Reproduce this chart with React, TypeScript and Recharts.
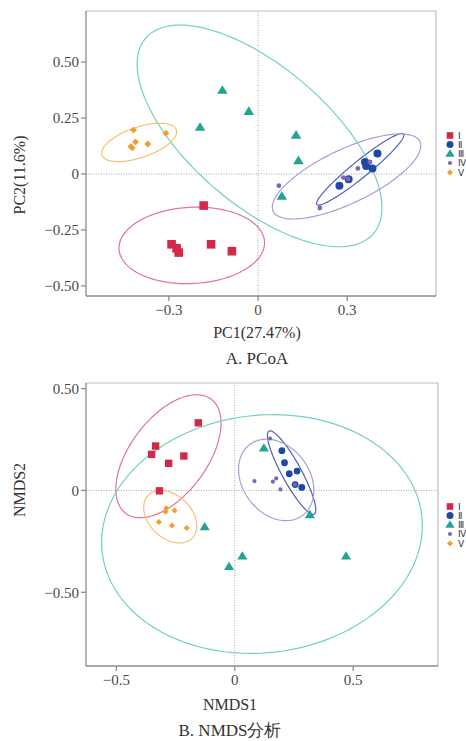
import React from 'react';
import { ScatterChart, Scatter, XAxis, YAxis, ReferenceLine } from 'recharts';

const groups = ['Ⅰ', 'Ⅱ', 'Ⅲ', 'Ⅳ', 'Ⅴ'];
const kinds = ['square', 'circle', 'triangle', 'dot', 'diamond'];
const colors = ['#d4284a', '#1d49a3', '#22a394', '#7b69b5', '#f49c2c'];
const ellipseColors = ['#e2778b', '#4e62ba', '#74d0c8', '#aa9dd8', '#f7bf74'];

// A. PCoA
const pcoaI = [
  { x: -0.183, y: -0.141 }, { x: -0.291, y: -0.314 }, { x: -0.274, y: -0.332 },
  { x: -0.267, y: -0.351 }, { x: -0.158, y: -0.314 }, { x: -0.088, y: -0.345 },
];
const pcoaII = [
  { x: 0.274, y: -0.052 }, { x: 0.305, y: -0.024 }, { x: 0.36, y: 0.054 },
  { x: 0.364, y: 0.036 }, { x: 0.385, y: 0.025 }, { x: 0.402, y: 0.092 },
];
const pcoaIII = [
  { x: -0.12, y: 0.375 }, { x: -0.031, y: 0.281 }, { x: -0.195, y: 0.21 },
  { x: 0.128, y: 0.175 }, { x: 0.136, y: 0.061 }, { x: 0.08, y: -0.098 },
];
const pcoaIV = [
  { x: 0.07, y: -0.052 }, { x: 0.208, y: -0.152 }, { x: 0.287, y: -0.016 },
  { x: 0.303, y: -0.022 }, { x: 0.336, y: 0.025 }, { x: 0.377, y: 0.054 },
];
const pcoaV = [
  { x: -0.419, y: 0.196 }, { x: -0.31, y: 0.182 }, { x: -0.412, y: 0.143 },
  { x: -0.371, y: 0.134 }, { x: -0.428, y: 0.122 }, { x: -0.423, y: 0.117 },
];
// confidence ellipses: centre, half-width, half-height, correlation
const pcoaEllipses = [
  { cx: -0.223, cy: -0.319, w: 0.245, h: 0.171, rho: 0.069 },
  { cx: 0.344, cy: 0.021, w: 0.147, h: 0.16, rho: 0.955 },
  { cx: 0.005, cy: 0.17, w: 0.412, h: 0.495, rho: -0.648 },
  { cx: 0.298, cy: -0.011, w: 0.25, h: 0.19, rho: 0.721 },
  { cx: -0.4, cy: 0.141, w: 0.126, h: 0.0857, rho: 0.555 },
];
const pcoaXTicks = [-0.3, 0, 0.3];
const pcoaYTicks = [-0.5, -0.25, 0, 0.25, 0.5];

// B. NMDS
const nmdsI = [
  { x: -0.154, y: 0.332 }, { x: -0.334, y: 0.218 }, { x: -0.351, y: 0.177 },
  { x: -0.215, y: 0.169 }, { x: -0.279, y: 0.133 }, { x: -0.318, y: -0.002 },
];
const nmdsII = [
  { x: 0.199, y: 0.195 }, { x: 0.21, y: 0.136 }, { x: 0.23, y: 0.082 },
  { x: 0.263, y: 0.095 }, { x: 0.255, y: 0.029 }, { x: 0.283, y: 0.015 },
];
const nmdsIII = [
  { x: 0.123, y: 0.209 }, { x: -0.127, y: -0.177 }, { x: 0.317, y: -0.118 },
  { x: 0.032, y: -0.321 }, { x: -0.024, y: -0.373 }, { x: 0.47, y: -0.321 },
];
const nmdsIV = [
  { x: 0.149, y: 0.255 }, { x: 0.083, y: 0.046 }, { x: 0.161, y: 0.043 },
  { x: 0.175, y: 0.059 }, { x: 0.193, y: 0.005 }, { x: 0.254, y: 0.028 },
];
const nmdsV = [
  { x: -0.289, y: -0.087 }, { x: -0.254, y: -0.098 }, { x: -0.292, y: -0.105 },
  { x: -0.32, y: -0.155 }, { x: -0.265, y: -0.172 }, { x: -0.203, y: -0.185 },
];
const nmdsEllipses = [
  { cx: -0.28, cy: 0.168, w: 0.222, h: 0.302, rho: 0.536 },
  { cx: 0.24, cy: 0.0876, w: 0.102, h: 0.205, rho: -0.89 },
  { cx: 0.115, cy: -0.214, w: 0.677, h: 0.586, rho: 0.07 },
  { cx: 0.175, cy: 0.0516, w: 0.159, h: 0.2, rho: -0.26 },
  { cx: -0.2725, cy: -0.129, w: 0.112, h: 0.129, rho: -0.35 },
];
const nmdsXTicks = [-0.5, 0, 0.5];
const nmdsYTicks = [-0.5, 0, 0.5];

type E = { cx: number; cy: number; w: number; h: number; rho: number };
function ellipsePoints(e: E) {
  const pts: { x: number; y: number }[] = [];
  const n = 160;
  const s = Math.sqrt(1 - e.rho * e.rho);
  for (let i = 0; i <= n; i++) {
    const t = (2 * Math.PI * i) / n;
    pts.push({ x: e.cx + e.w * Math.cos(t), y: e.cy + e.h * (e.rho * Math.cos(t) + s * Math.sin(t)) });
  }
  return pts;
}

function drawMarker(kind: string, color: string, s: number, cx: number, cy: number) {
  switch (kind) {
    case 'square':
      return <rect x={cx - s} y={cy - s} width={2 * s} height={2 * s} fill={color} />;
    case 'circle':
      return <circle cx={cx} cy={cy} r={s} fill={color} />;
    case 'triangle':
      return (
        <polygon
          points={`${cx},${cy - s} ${cx + s * 1.1},${cy + s * 0.8} ${cx - s * 1.1},${cy + s * 0.8}`}
          fill={color}
        />
      );
    case 'dot':
      return <circle cx={cx} cy={cy} r={s} fill={color} />;
    default:
      return <polygon points={`${cx},${cy - s} ${cx + s},${cy} ${cx},${cy + s} ${cx - s},${cy}`} fill={color} />;
  }
}

function markerShape(kind: string, color: string, s: number) {
  return (p: any) => {
    if (p == null || p.cx == null || p.cy == null) return <g />;
    return drawMarker(kind, color, s, p.cx, p.cy);
  };
}

const EmptyShape = () => <g />;

const FONT = '"Liberation Serif", "Times New Roman", serif';
const tickStyle = { fill: '#4a4a4a', fontSize: 15, fontFamily: FONT };

function fmt(d: number) {
  return (v: number) => (v === 0 ? '0' : (v < 0 ? '\u2212' : '') + Math.abs(v).toFixed(d));
}

type PanelProps = {
  series: { x: number; y: number }[][];
  ellipses: E[];
  xDomain: [number, number];
  yDomain: [number, number];
  xTicks: number[];
  yTicks: number[];
  xDigits: number;
  yDigits: number;
  height: number;
  margin: { top: number; right: number; bottom: number; left: number };
  sizes: number[];
};

function Panel(props: PanelProps) {
  const { series, ellipses, xDomain, yDomain, xTicks, yTicks, height, margin, sizes } = props;
  return (
    <ScatterChart width={466} height={height} margin={margin}>
      <XAxis
        type="number"
        dataKey="x"
        domain={xDomain}
        ticks={xTicks}
        allowDataOverflow
        tickFormatter={fmt(props.xDigits)}
        tick={tickStyle}
        tickSize={5}
        tickMargin={3}
        height={30}
        stroke="#8c8c8c"
        strokeWidth={1.3}
      />
      <YAxis
        type="number"
        dataKey="y"
        domain={yDomain}
        ticks={yTicks}
        allowDataOverflow
        tickFormatter={fmt(props.yDigits)}
        tick={tickStyle}
        tickSize={5}
        tickMargin={2}
        width={86}
        stroke="#8c8c8c"
        strokeWidth={1.3}
      />
      <ReferenceLine y={yDomain[1]} stroke="#bdbdbd" strokeWidth={1.2} />
      <ReferenceLine x={xDomain[1]} stroke="#bdbdbd" strokeWidth={1.2} />
      <ReferenceLine x={0} stroke="#a8a8a8" strokeDasharray="1 1.5" />
      <ReferenceLine y={0} stroke="#a8a8a8" strokeDasharray="1 1.5" />
      {ellipses.map((e, i) => (
        <Scatter
          key={'e' + i}
          data={ellipsePoints(e)}
          line={{ stroke: ellipseColors[i], strokeWidth: 1.2 }}
          lineType="joint"
          shape={EmptyShape}
          legendType="none"
          isAnimationActive={false}
        />
      ))}
      {series.map((d, i) => (
        <Scatter
          key={'s' + i}
          name={groups[i]}
          data={d}
          shape={markerShape(kinds[i], colors[i], sizes[i])}
          isAnimationActive={false}
        />
      ))}
    </ScatterChart>
  );
}

function LegendBox({ top }: { top: number }) {
  const ys = [4.5, 13.5, 22.5, 32, 41.5];
  const ss = [3.3, 3.5, 4.2, 2.1, 3];
  return (
    <svg style={{ position: 'absolute', left: 444, top }} width={22} height={48}>
      {groups.map((g, i) => (
        <g key={'l' + i}>
          {drawMarker(kinds[i], colors[i], ss[i], 6, ys[i])}
          <text x={13.5} y={ys[i] + 3.2} fontSize={8.5} fontFamily={FONT} fill="#333">
            {g}
          </text>
        </g>
      ))}
    </svg>
  );
}

const label = (x: number, y: number, size: number, rotate = false): React.CSSProperties => ({
  position: 'absolute',
  left: x,
  top: y,
  transform: `translate(-50%, -50%)${rotate ? ' rotate(-90deg)' : ''}`,
  fontSize: size,
  fontFamily: FONT,
  color: '#333',
  whiteSpace: 'nowrap',
  lineHeight: 1,
});

export default function App() {
  return (
    <div style={{ position: 'absolute', left: 0, top: 0, width: 466, height: 741, background: '#fff', overflow: 'hidden' }}>
      <div style={{ position: 'absolute', left: 0, top: 0 }}>
        <Panel
          series={[pcoaI, pcoaII, pcoaIII, pcoaIV, pcoaV]}
          ellipses={pcoaEllipses}
          xDomain={[-0.579, 0.599]}
          yDomain={[-0.545, 0.728]}
          xTicks={pcoaXTicks}
          yTicks={pcoaYTicks}
          xDigits={1}
          yDigits={2}
          height={370}
          margin={{ top: 11, right: 30, bottom: 44, left: 0 }}
          sizes={[4.3, 4, 4.8, 2.4, 3.4]}
        />
      </div>
      <LegendBox top={131} />
      <div style={label(20, 175, 16, true)}>PC2(11.6%)</div>
      <div style={label(257, 333, 16)}>PC1(27.47%)</div>
      <div style={label(257, 358, 17)}>A. PCoA</div>

      <div style={{ position: 'absolute', left: 0, top: 370 }}>
        <Panel
          series={[nmdsI, nmdsII, nmdsIII, nmdsIV, nmdsV]}
          ellipses={nmdsEllipses}
          xDomain={[-0.628, 0.858]}
          yDomain={[-0.862, 0.5275]}
          xTicks={nmdsXTicks}
          yTicks={nmdsYTicks}
          xDigits={1}
          yDigits={2}
          height={371}
          margin={{ top: 13, right: 28, bottom: 45, left: 0 }}
          sizes={[3.7, 3.4, 4.6, 2.1, 3]}
        />
      </div>
      <LegendBox top={502} />
      <div style={label(20, 490, 16, true)}>NMDS2</div>
      <div style={label(230, 705, 16)}>NMDS1</div>
      <div style={label(230, 730, 17)}>B. NMDS分析</div>
    </div>
  );
}
